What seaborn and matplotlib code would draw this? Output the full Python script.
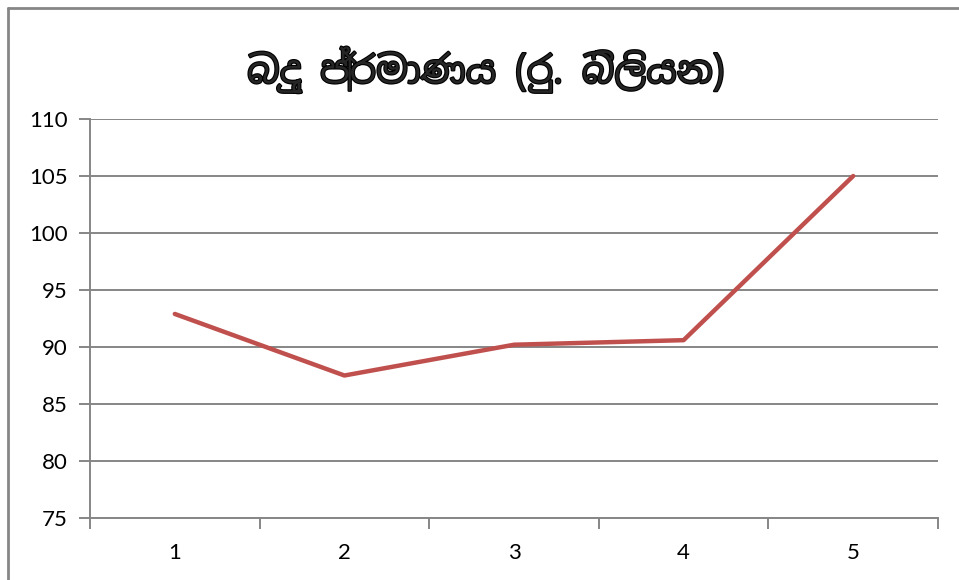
import matplotlib
matplotlib.use("Agg")
import matplotlib.pyplot as plt
import matplotlib.patheffects as pe
from matplotlib import font_manager as fm
import seaborn as sns
import pandas as pd

# data
periods = [1, 2, 3, 4, 5]
tax_amount = [92.9, 87.5, 90.2, 90.6, 105.0]
title_text = "බදු ප්‍රමාණය (රු. බිලියන)"

sns.set_theme(style="white")
plt.rcParams["font.family"] = ["Lato", "DejaVu Sans"]

# look for any installed font that covers Sinhala
sinhala_fonts = []
for f in fm.fontManager.ttflist:
    if "sinhala" in f.name.lower() or "iskoola" in f.name.lower():
        sinhala_fonts.append(f.name)
title_family = sorted(set(sinhala_fonts)) + ["Noto Sans", "DejaVu Sans"]

df = pd.DataFrame({"period": periods, "amount": tax_amount})

fig = plt.figure(figsize=(9.59, 5.80), dpi=100)
ax = fig.add_axes([90 / 959, 62 / 580, 848 / 959, 399 / 580])

sns.lineplot(data=df, x="period", y="amount", ax=ax, color="#C0504D", linewidth=3.2)

grey = "#868686"
ax.set_xlim(0.5, 5.5)
ax.set_ylim(75, 110)
ax.set_yticks(range(75, 111, 5))
ax.set_xticks(periods)
ax.set_xticks([p - 0.5 for p in periods] + [5.5], minor=True)
ax.yaxis.grid(True, color=grey, linewidth=1.4)
ax.set_axisbelow(True)
ax.set_xlabel("")
ax.set_ylabel("")

for side in ["top", "right"]:
    ax.spines[side].set_visible(False)
for side in ["left", "bottom"]:
    ax.spines[side].set_color(grey)
    ax.spines[side].set_linewidth(1.4)

ax.tick_params(axis="y", which="major", length=8, width=1.4, color=grey, direction="out",
               labelsize=16, labelcolor="black", pad=8, left=True)
ax.tick_params(axis="x", which="major", length=0, labelsize=16, labelcolor="black", pad=18, bottom=True)
ax.tick_params(axis="x", which="minor", length=8, width=1.4, color=grey, direction="out", bottom=True)

# the sinhala font has no bold face, so thicken it with a stroke
fig.text(486 / 959, 1 - 70 / 580, title_text, ha="center", va="center",
         fontsize=27, fontweight="bold", family=title_family,
         path_effects=[pe.withStroke(linewidth=1.6, foreground="black")])

# chart frame, only top and left edges are visible in the crop
fig.add_artist(plt.Line2D([7.5 / 959, 7.5 / 959], [0, 1 - 7.5 / 580], transform=fig.transFigure,
                          color=grey, linewidth=2))
fig.add_artist(plt.Line2D([7.5 / 959, 1], [1 - 7.5 / 580, 1 - 7.5 / 580], transform=fig.transFigure,
                          color=grey, linewidth=2))

fig.savefig("out.png", dpi=100)
